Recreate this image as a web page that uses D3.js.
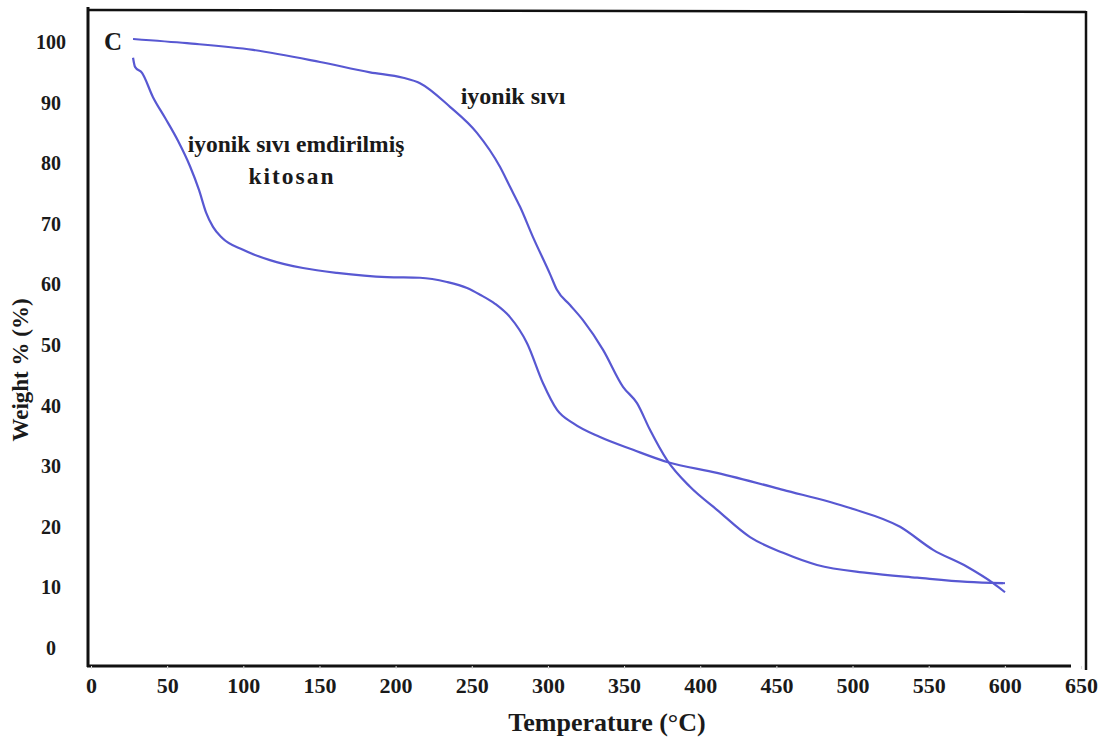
<!DOCTYPE html>
<html>
<head>
<meta charset="utf-8">
<script src="https://cdn.jsdelivr.net/npm/d3@7"></script>
<style>
  html, body { margin: 0; padding: 0; background: #ffffff; }
  svg { display: block; }
  text { font-family: "Liberation Serif", "Times New Roman", serif; font-weight: bold; fill: #1a1a1a; }
</style>
</head>
<body>
<svg id="chart" width="1112" height="744"></svg>
<script>
// TGA curves: temperature (°C) vs. remaining weight (%)
const ionicTemp = [27.6, 63.0, 106.4, 150.4, 183.2, 204.9, 216.0, 235.7, 253.4, 268.5, 275.1, 281.7, 290.2, 301.4, 305.9, 314.5, 323.0, 336.2, 349.3, 358.5, 367.0, 378.2, 393.3, 411.0, 432.7, 454.4, 476.7, 509.5, 542.4, 575.2, 598.8];
const ionicWeight = [100.5, 99.8, 98.7, 96.7, 95.0, 94.1, 93.2, 89.3, 85.0, 79.4, 76.1, 72.8, 67.8, 61.7, 59.1, 56.6, 54.1, 49.2, 43.1, 40.4, 36.0, 31.0, 26.6, 22.8, 18.3, 15.7, 13.7, 12.4, 11.6, 10.9, 10.7];

const chitosanTemp = [27.6, 28.9, 33.5, 40.7, 48.6, 57.1, 65.0, 70.9, 75.5, 80.1, 86.0, 99.8, 117.5, 139.2, 161.5, 194.4, 216.0, 233.7, 246.9, 255.4, 265.3, 275.1, 286.3, 296.8, 306.0, 316.5, 334.2, 355.9, 378.2, 411.0, 454.4, 498.4, 531.2, 552.9, 575.2, 592.3, 600.1];
const chitosanWeight = [97.4, 95.9, 94.9, 90.9, 87.5, 83.7, 79.5, 75.6, 71.9, 69.5, 67.7, 65.7, 64.0, 62.7, 61.9, 61.2, 61.1, 60.4, 59.4, 58.3, 56.8, 54.6, 50.3, 43.7, 39.3, 37.1, 34.8, 32.7, 30.7, 28.9, 26.1, 23.1, 20.0, 16.2, 13.4, 10.7, 9.2];

const xTicks = [0, 50, 100, 150, 200, 250, 300, 350, 400, 450, 500, 550, 600, 650];
const yTicks = [0, 10, 20, 30, 40, 50, 60, 70, 80, 90, 100];

const svg = d3.select("#chart");

const x = d3.scaleLinear().domain([0, 650]).range([91, 1081]);
const y = d3.scaleLinear().domain([0, 100]).range([648, 42]);

// plot frame
const frame = svg.append("g").attr("stroke", "#111").attr("fill", "none");
frame.append("line").attr("x1", 88).attr("y1", 7).attr("x2", 88).attr("y2", 667).attr("stroke-width", 3);
frame.append("line").attr("x1", 87).attr("y1", 10).attr("x2", 1086).attr("y2", 12).attr("stroke-width", 2.5);
frame.append("line").attr("x1", 1086).attr("y1", 11).attr("x2", 1086).attr("y2", 670).attr("stroke-width", 2.5);
frame.append("line").attr("x1", 87).attr("y1", 666).attr("x2", 1071).attr("y2", 666).attr("stroke-width", 3);

// x axis labels
const xAxis = d3.axisBottom(x).tickValues(xTicks).tickSize(3).tickPadding(8).tickFormat(d3.format("d"));
const gx = svg.append("g").attr("transform", "translate(0,666)").call(xAxis);
gx.select(".domain").remove();
gx.selectAll(".tick line").attr("stroke", "#ddd");
gx.selectAll(".tick text").attr("font-size", 22).attr("fill", "#1a1a1a")
  .attr("font-family", "Liberation Serif, serif").attr("font-weight", "bold");

// y axis labels
const yAxis = d3.axisLeft(y).tickValues(yTicks).tickSize(0).tickPadding(0).tickFormat(d3.format("d"));
const gy = svg.append("g").attr("transform", "translate(51,0)").call(yAxis);
gy.select(".domain").remove();
gy.selectAll(".tick text").attr("text-anchor", "middle").attr("font-size", 20).attr("fill", "#1a1a1a")
  .attr("font-family", "Liberation Serif, serif").attr("font-weight", "bold");

// axis titles
svg.append("text").attr("x", 607).attr("y", 731).attr("text-anchor", "middle")
  .attr("font-size", 26).text("Temperature (°C)");
svg.append("text").attr("transform", "translate(28,370) rotate(-90)").attr("text-anchor", "middle")
  .attr("font-size", 23).text("Weight % (%)");

// curves
const line = d3.line().x(d => x(d[0])).y(d => y(d[1])).curve(d3.curveMonotoneX);
const ionic = d3.zip(ionicTemp, ionicWeight);
const chitosan = d3.zip(chitosanTemp, chitosanWeight);

svg.append("path").datum(ionic).attr("d", line)
  .attr("fill", "none").attr("stroke", "#5858d2").attr("stroke-width", 2.2);
svg.append("path").datum(chitosan).attr("d", line)
  .attr("fill", "none").attr("stroke", "#5858d2").attr("stroke-width", 2.2);

// short end stroke on the ionic liquid curve
const last = ionic[ionic.length - 1];
svg.append("line").attr("x1", x(last[0]) - 10).attr("y1", y(last[1]))
  .attr("x2", x(last[0]) + 2).attr("y2", y(last[1]))
  .attr("stroke", "#5858d2").attr("stroke-width", 2);

// panel letter and curve annotations
svg.append("text").attr("x", 104).attr("y", 50).attr("font-size", 25).text("C");
svg.append("text").attr("x", 513).attr("y", 104).attr("text-anchor", "middle").attr("font-size", 24).text("iyonik sıvı");
svg.append("text").attr("x", 296).attr("y", 152).attr("text-anchor", "middle").attr("font-size", 23.5).text("iyonik sıvı emdirilmiş");
svg.append("text").attr("x", 292).attr("y", 184).attr("text-anchor", "middle").attr("font-size", 23.5)
  .attr("letter-spacing", 2).text("kitosan");
</script>
</body>
</html>
